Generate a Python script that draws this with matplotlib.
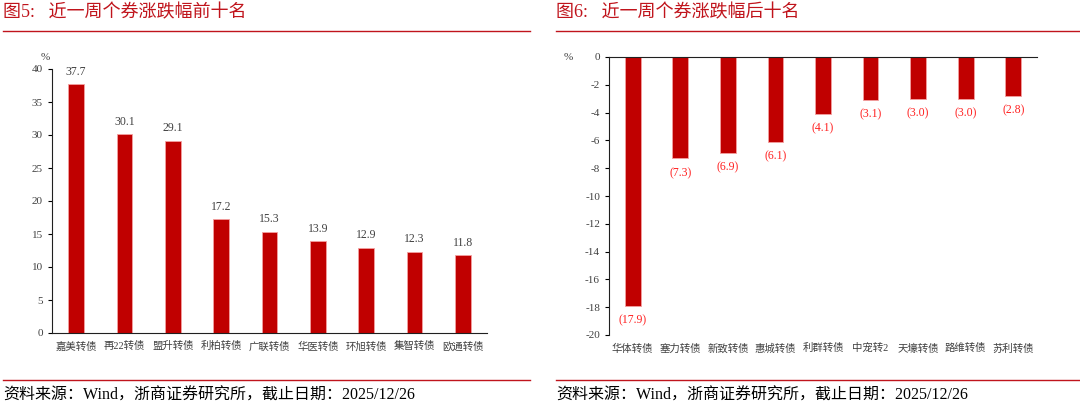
import matplotlib.pyplot as plt

plt.rcParams['font.family'] = ['Liberation Serif', 'Noto Sans CJK SC', 'DejaVu Sans']
plt.rcParams['axes.unicode_minus'] = False

# 前十名
top_names = ["嘉美转债", "再22转债", "盟升转债", "利柏转债", "广联转债",
             "华医转债", "环旭转债", "集智转债", "欧通转债"]
top_values = [37.7, 30.1, 29.1, 17.2, 15.3, 13.9, 12.9, 12.3, 11.8]

# 后十名
bottom_names = ["华体转债", "塞力转债", "新致转债", "惠城转债", "利群转债",
                "中宠转2", "天壕转债", "路维转债", "苏利转债"]
bottom_values = [-17.9, -7.3, -6.9, -6.1, -4.1, -3.1, -3.0, -3.0, -2.8]

bar_color = "#C00000"
title_color = "#C0141C"
text_color = "#404040"

fig = plt.figure(figsize=(10.8, 4.08), dpi=100)

# 标题和分隔线
fig.text(3 / 1080, 1 - 13 / 408, "图5:   近一周个券涨跌幅前十名", color=title_color,
         fontsize=13, va="center", ha="left")
fig.text(556 / 1080, 1 - 13 / 408, "图6:   近一周个券涨跌幅后十名", color=title_color,
         fontsize=13, va="center", ha="left")
fig.add_artist(plt.Line2D([3 / 1080, 530 / 1080], [1 - 31 / 408] * 2, color=title_color, lw=1))
fig.add_artist(plt.Line2D([556 / 1080, 1.0], [1 - 31 / 408] * 2, color=title_color, lw=1))
fig.add_artist(plt.Line2D([3 / 1080, 530 / 1080], [1 - 380 / 408] * 2, color=title_color, lw=1))
fig.add_artist(plt.Line2D([556 / 1080, 1.0], [1 - 380 / 408] * 2, color=title_color, lw=1))
src = "资料来源：Wind，浙商证券研究所，截止日期：2025/12/26"
fig.text(3 / 1080, 1 - 396 / 408, src, fontsize=11.5, va="center", ha="left", color="black")
fig.text(556 / 1080, 1 - 396 / 408, src, fontsize=11.5, va="center", ha="left", color="black")

# 左图
ax1 = fig.add_axes([52 / 1080, 1 - 333 / 408, 435 / 1080, 264 / 408])
x = range(len(top_names))
ax1.bar(x, top_values, width=0.33, color=bar_color, edgecolor="#F4A0A0", linewidth=0.6)
for i, v in enumerate(top_values):
    ax1.text(i, v + 1.0, f"{v:.1f}", ha="center", va="bottom", fontsize=8.5, color=text_color)
ax1.set_ylim(0, 40)
ax1.set_xlim(-0.5, len(top_names) - 0.5)
ax1.set_yticks(range(0, 41, 5))
ax1.set_xticks(list(x))
ax1.set_xticklabels(top_names, fontsize=7.5, color=text_color)
ax1.tick_params(axis="x", length=0, pad=6)
ax1.tick_params(axis="y", labelsize=8, labelcolor=text_color, length=3, direction="out")
for s in ["top", "right"]:
    ax1.spines[s].set_visible(False)
ax1.spines["left"].set_color("#202020")
ax1.spines["bottom"].set_color("#202020")
ax1.text(-0.005, 1.035, "%", transform=ax1.transAxes, fontsize=8, color=text_color, ha="right")

# 右图
ax2 = fig.add_axes([609 / 1080, 1 - 335 / 408, 428 / 1080, 278 / 408])
x2 = range(len(bottom_names))
ax2.bar(x2, bottom_values, width=0.33, color=bar_color, edgecolor="#F4A0A0", linewidth=0.6)
for i, v in enumerate(bottom_values):
    ax2.text(i, v - 0.6, f"({abs(v):.1f})", ha="center", va="top", fontsize=8.5, color="#FF2020")
ax2.set_ylim(-20, 0)
ax2.set_xlim(-0.5, len(bottom_names) - 0.5)
ax2.set_yticks(range(-20, 1, 2))
ax2.set_xticks(list(x2))
ax2.set_xticklabels(bottom_names, fontsize=7.5, color=text_color)
ax2.tick_params(axis="x", length=0, pad=6)
ax2.tick_params(axis="y", labelsize=8, labelcolor=text_color, length=3, direction="out")
for s in ["bottom", "right"]:
    ax2.spines[s].set_visible(False)
ax2.spines["left"].set_color("#202020")
ax2.spines["top"].set_color("#202020")
ax2.text(-0.085, 1.0, "%", transform=ax2.transAxes, fontsize=8, color=text_color,
         ha="right", va="center")

fig.savefig("out.png", dpi=100)
